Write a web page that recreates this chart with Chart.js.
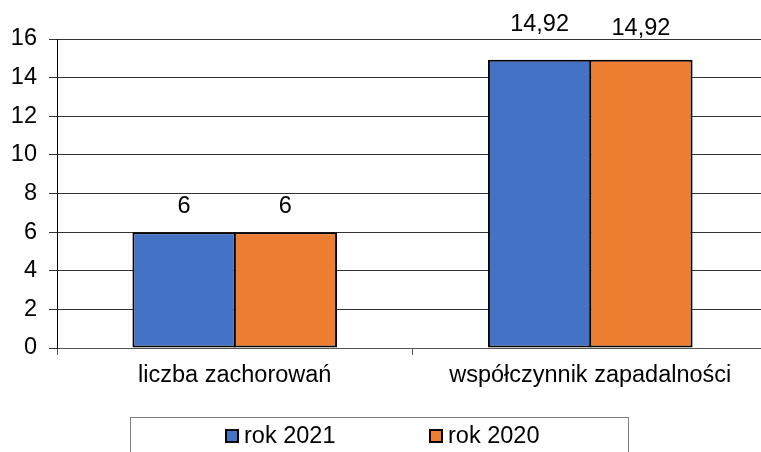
<!DOCTYPE html>
<html><head><meta charset="utf-8">
<script src="https://cdn.jsdelivr.net/npm/chart.js@4/dist/chart.umd.min.js"></script>
<style>html,body{margin:0;padding:0;overflow:hidden;background:#fff}#wrap{width:768px;height:452px}</style>
</head><body><div id="wrap"><canvas id="c" width="768" height="452"></canvas></div>
<script>
const categories = ['liczba zachorowań', 'współczynnik zapadalności'];
const seriesNames = ['rok 2021', 'rok 2020'];
const values2021 = [6, 14.92];
const values2020 = [6, 14.92];
const yTicks = [0, 2, 4, 6, 8, 10, 12, 14, 16];
const seriesColors = ['#4472C4', '#ED7D31'];

const FONT = 'Liberation Sans, Arial, sans-serif';
const FS = 23.5;

const fmt = v => String(v).replace('.', ',');

const dataLabels = {
  id: 'dataLabels',
  afterDatasetsDraw(chart) {
    const ctx = chart.ctx;
    const offsets = [[26, 26], [35, 31]];
    ctx.save();
    ctx.font = FS + 'px ' + FONT;
    ctx.fillStyle = '#000';
    ctx.textAlign = 'center';
    ctx.textBaseline = 'middle';
    chart.data.datasets.forEach((ds, di) => {
      chart.getDatasetMeta(di).data.forEach((bar, i) => {
        ctx.fillText(fmt(ds.data[i]), bar.x, bar.y - offsets[i][di]);
      });
    });
    ctx.restore();
  }
};

const boxLegend = {
  id: 'boxLegend',
  afterDraw(chart) {
    const ctx = chart.ctx;
    ctx.save();
    ctx.strokeStyle = '#7f7f7f';
    ctx.lineWidth = 1;
    ctx.strokeRect(130.5, 417.5, 498, 60);
    ctx.font = FS + 'px ' + FONT;
    ctx.textBaseline = 'middle';
    ctx.textAlign = 'left';
    const starts = [226, 430];
    chart.data.datasets.forEach((ds, di) => {
      const x = starts[di];
      ctx.fillStyle = ds.backgroundColor;
      ctx.fillRect(x, 430, 12, 12);
      ctx.strokeStyle = '#000';
      ctx.lineWidth = 2;
      ctx.strokeRect(x, 430, 12, 12);
      ctx.fillStyle = '#000';
      ctx.fillText(ds.label, x + 18, 437);
    });
    ctx.restore();
  }
};

new Chart(document.getElementById('c'), {
  type: 'bar',
  data: {
    labels: categories,
    datasets: [
      { label: seriesNames[0], data: values2021, backgroundColor: seriesColors[0] },
      { label: seriesNames[1], data: values2020, backgroundColor: seriesColors[1] }
    ].map(d => Object.assign(d, {
      borderColor: '#000', borderWidth: 2, borderSkipped: false,
      barPercentage: 1.02, categoryPercentage: 0.57
    }))
  },
  options: {
    responsive: false,
    animation: false,
    layout: { padding: { top: 39, right: 0, left: 0, bottom: 0 } },
    plugins: { legend: { display: false }, tooltip: { enabled: false } },
    scales: {
      x: {
        grid: { offset: true, drawOnChartArea: false, tickLength: 7, color: '#555', lineWidth: 1 },
        border: { color: '#555', width: 1 },
        ticks: { color: '#000', font: { family: FONT, size: FS }, padding: 6, maxRotation: 0 },
        afterFit(s) { s.height = 104; }
      },
      y: {
        min: 0, max: 16,
        afterBuildTicks(s) { s.ticks = yTicks.map(v => ({ value: v })); },
        grid: { color: '#333', lineWidth: 1, tickLength: 8 },
        border: { color: '#000', width: 1 },
        ticks: { color: '#000', font: { family: FONT, size: FS }, padding: 12, stepSize: 2 },
        afterFit(s) { s.width = 57; }
      }
    }
  },
  plugins: [dataLabels, boxLegend]
});
</script></body></html>
